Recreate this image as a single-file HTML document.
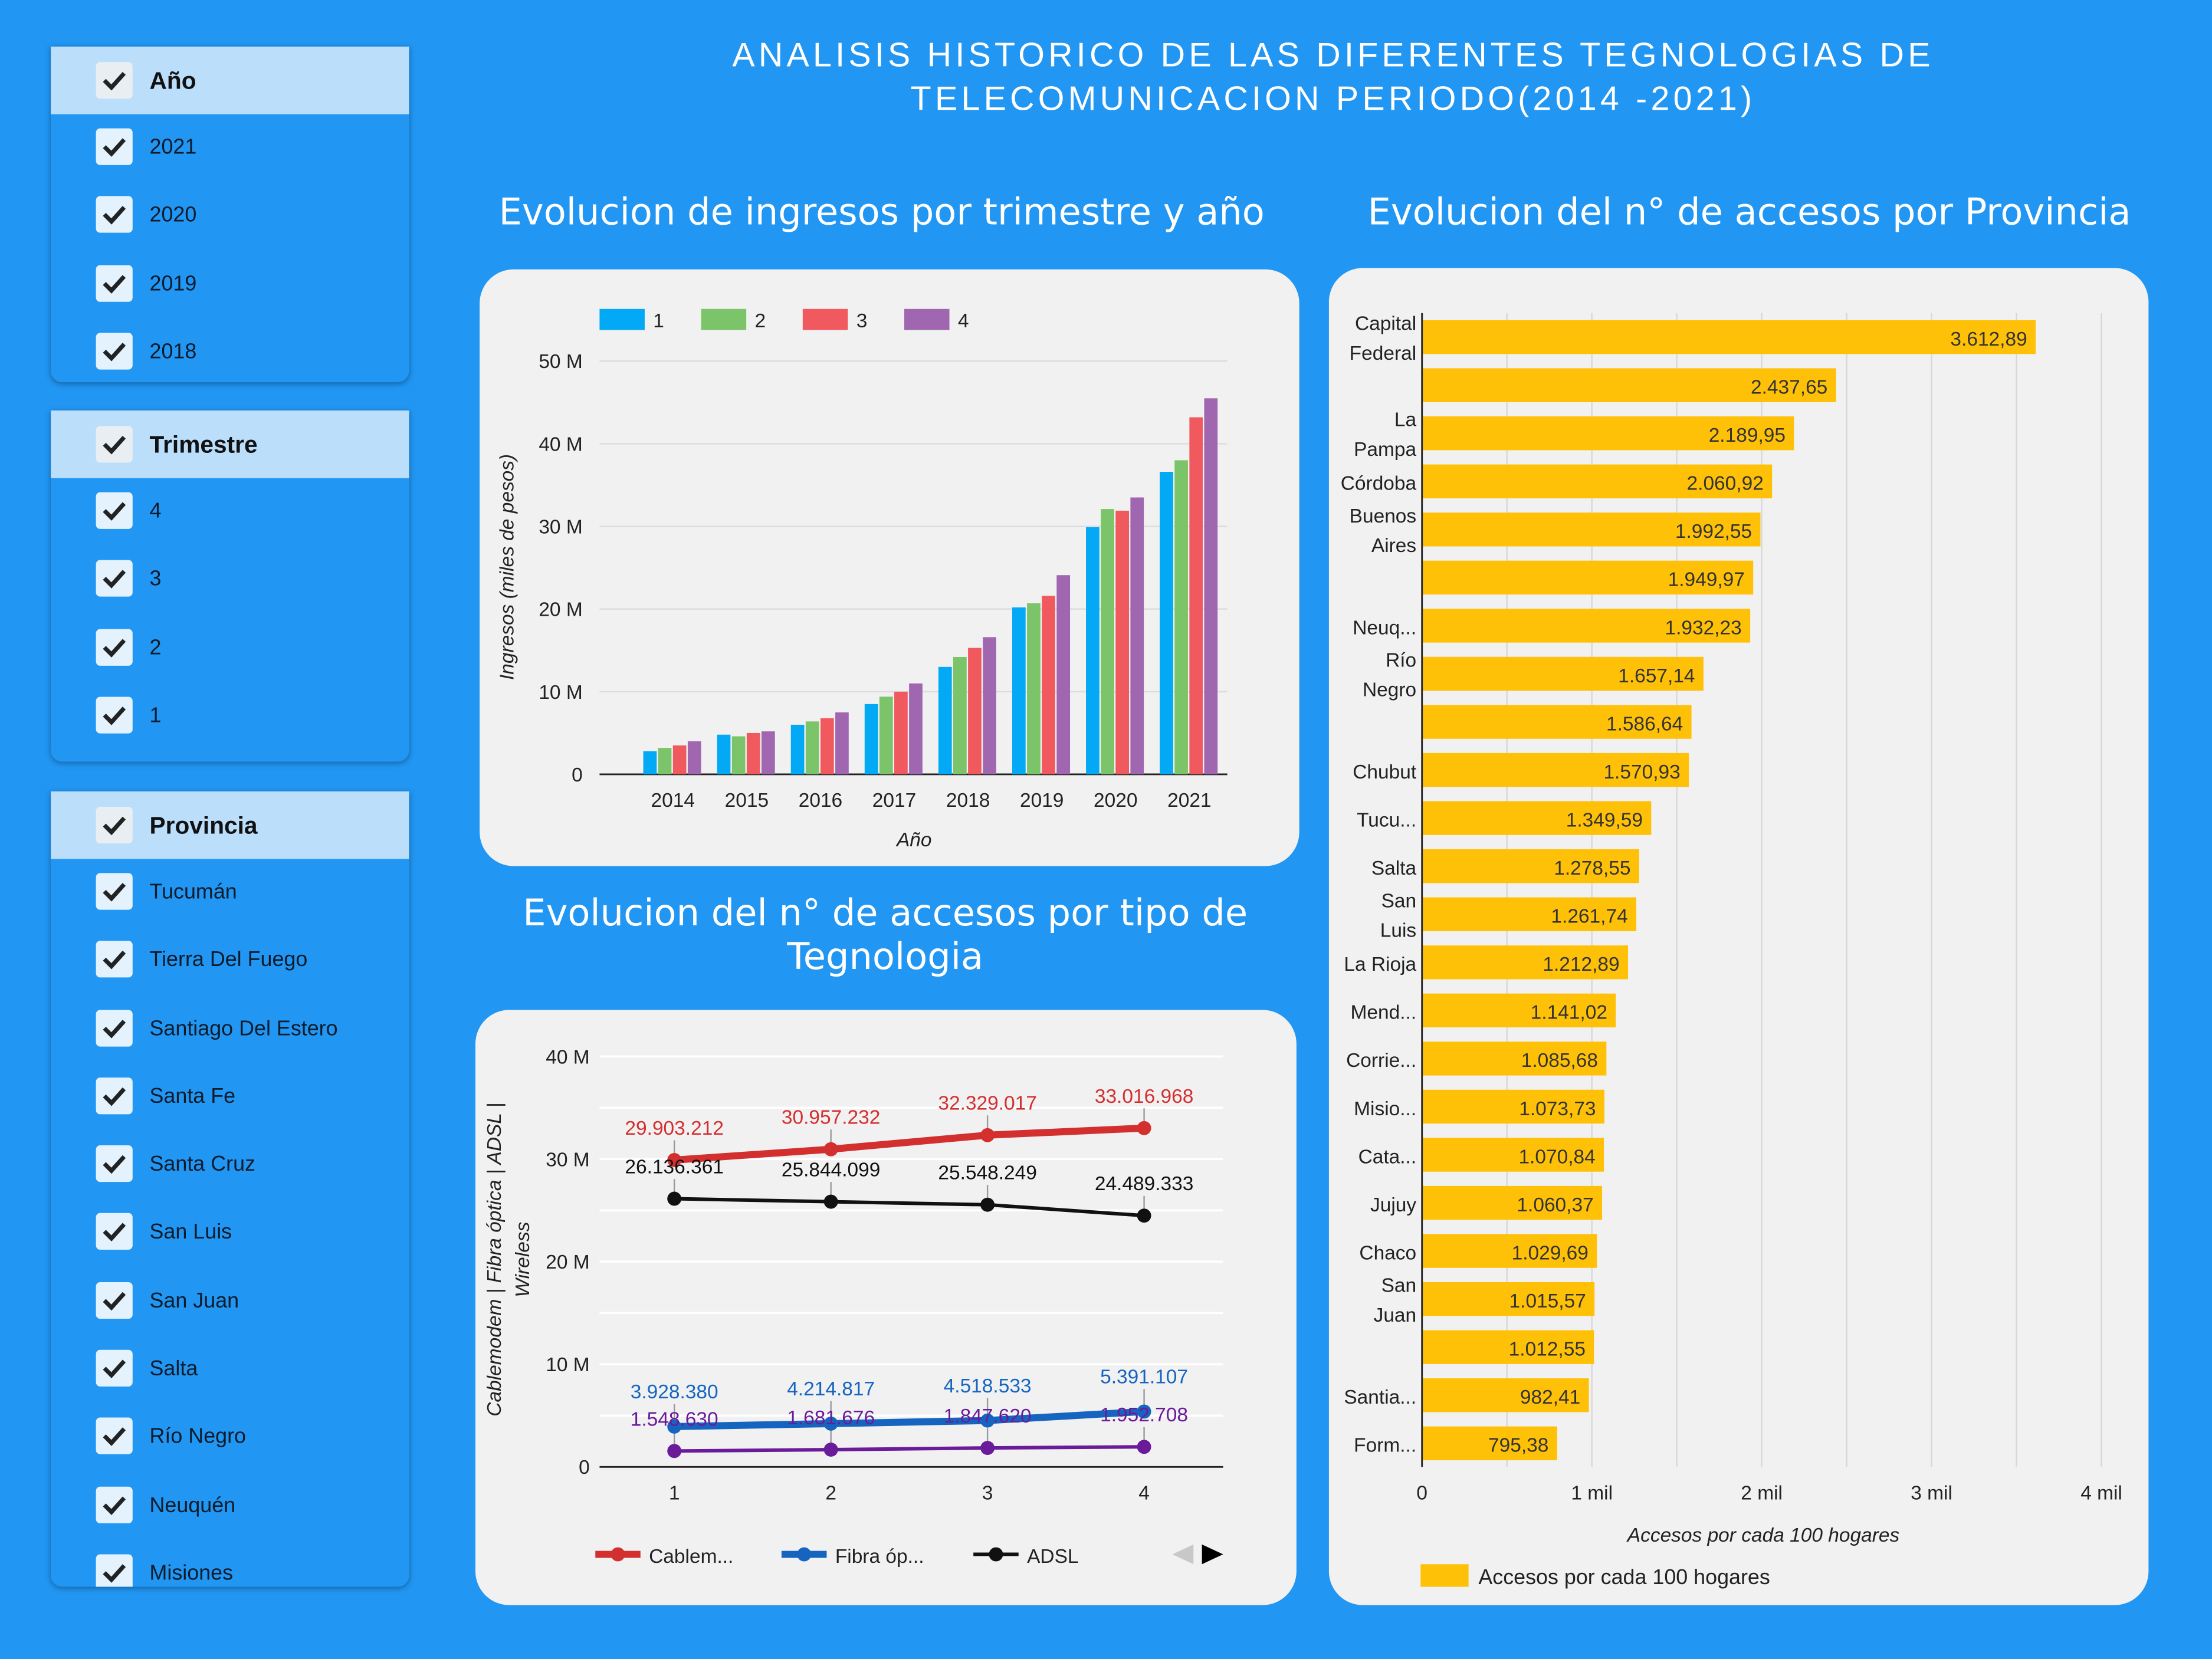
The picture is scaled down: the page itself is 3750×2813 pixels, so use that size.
<!DOCTYPE html>
<html><head><meta charset="utf-8">
<style>
html,body{margin:0;padding:0;width:3750px;height:2813px;overflow:hidden;background:#2196f3}
#root{position:absolute;left:0;top:0;width:1568px;height:1176px;transform:scale(2.3916);transform-origin:0 0;font-family:"Liberation Sans","DejaVu Sans",sans-serif}
.panel{position:absolute;left:36px;width:254px;background:#2196f3;box-shadow:0 1px 4px rgba(0,0,0,.35);border-radius:0 0 8px 8px;overflow:hidden}
.hdr{height:48px;background:#bbdefb;position:relative;font-weight:bold;font-size:17px;color:#111}
.item{height:48.3px;position:relative;font-size:15px;color:#0d1b2a}
.cb{position:absolute;left:32px;width:26px;height:26px;border-radius:3px;background:#e3f2fd}
.hdr .cb{background:#e8eef2}
.cb svg{position:absolute;left:4px;top:5px}
.lbl{position:absolute;left:70px}
.card{position:absolute;background:#f1f1f1;border-radius:24px}
.h2{position:absolute;color:#fff;font-size:26px;text-align:center;font-family:"DejaVu Sans",sans-serif;font-weight:400;white-space:nowrap}
</style></head><body>
<div id="root">

<div class="h2" style="left:400px;top:24px;width:1090px;font-family:'Liberation Sans',sans-serif;font-size:24px;line-height:31px;letter-spacing:2.6px;text-transform:uppercase">Analisis Historico de las diferentes tegnologias de<br>telecomunicacion periodo(2014 -2021)</div>
<div class="h2" style="left:330px;top:136px;width:590px">Evolucion de ingresos por trimestre y año</div>
<div class="h2" style="left:940px;top:136px;width:600px">Evolucion del n° de accesos por Provincia</div>
<div class="h2" style="left:335px;top:633px;width:585px;line-height:31px">Evolucion del n° de accesos por tipo de<br>Tegnologia</div>

<div id="filters"></div>

<div class="card" style="left:340px;top:191px;width:581px;height:423px"></div>
<div class="card" style="left:337px;top:716px;width:582px;height:422px"></div>
<div class="card" style="left:942px;top:190px;width:581px;height:948px"></div>

<svg id="chart1" width="1568" height="1176" style="position:absolute;left:0;top:0" font-family="Liberation Sans, DejaVu Sans, sans-serif"></svg>
</div>

<script>
// ---------- Filter panels ----------
const yearItems=["2021","2020","2019","2018"];
const quarterItems=["4","3","2","1"];
const provItems=["Tucumán","Tierra Del Fuego","Santiago Del Estero","Santa Fe","Santa Cruz","San Luis","San Juan","Salta","Río Negro","Neuquén","Misiones"];
const check='<svg width="18" height="16" viewBox="0 0 18 16"><path d="M2 8 L7 13 L16 3" stroke="#222" stroke-width="3" fill="none"/></svg>';
function panel(title,items,top,h,name){
  const p=document.createElement('div');p.className='panel';p.style.top=top+'px';p.style.height=h+'px';
  
  
  const hd=document.createElement('div');hd.className='hdr';
  
  
  hd.innerHTML='<div class="cb" style="top:11px">'+check+'</div><div class="lbl" style="top:15px">'+title+'</div>';
  p.appendChild(hd);
  items.forEach(t=>{const it=document.createElement('div');it.className='item';
    
    
    it.innerHTML='<div class="cb" style="top:10px">'+check+'</div><div class="lbl" style="top:15px">'+t+'</div>';p.appendChild(it);});
  document.getElementById('filters').appendChild(p);
}
panel('Año',yearItems,33,238,'year-filter');
panel('Trimestre',quarterItems,291,249,'quarter-filter');
panel('Provincia',provItems,561,564,'province-filter');

// ---------- Chart data ----------
const years=["2014","2015","2016","2017","2018","2019","2020","2021"];
const q1=[2.8,4.8,6.0,8.5,13.0,20.2,29.9,36.6];
const q2=[3.2,4.6,6.4,9.4,14.2,20.7,32.1,38.0];
const q3=[3.5,5.0,6.8,10.0,15.3,21.6,31.9,43.2];
const q4=[4.0,5.2,7.5,11.0,16.6,24.1,33.5,45.5];
const revTicks=[0,10,20,30,40,50];

const quarters=["1","2","3","4"];
const cable=[29903212,30957232,32329017,33016968];
const adsl=[26136361,25844099,25548249,24489333];
const fibra=[3928380,4214817,4518533,5391107];
const wireless=[1548630,1681676,1847620,1952708];
const techTicks=[0,10,20,30,40];

const provLabels=[["Capital","Federal"],[],["La","Pampa"],["Córdoba"],["Buenos","Aires"],[],["Neuq..."],["Río","Negro"],[],["Chubut"],["Tucu..."],["Salta"],["San","Luis"],["La Rioja"],["Mend..."],["Corrie..."],["Misio..."],["Cata..."],["Jujuy"],["Chaco"],["San","Juan"],[],["Santia..."],["Form..."]];
const provValues=[3612.89,2437.65,2189.95,2060.92,1992.55,1949.97,1932.23,1657.14,1586.64,1570.93,1349.59,1278.55,1261.74,1212.89,1141.02,1085.68,1073.73,1070.84,1060.37,1029.69,1015.57,1012.55,982.41,795.38];
const provTicks=[0,1000,2000,3000,4000];
const provTickLabels=["0","1 mil","2 mil","3 mil","4 mil"];

const svg=document.getElementById('chart1');
const NS='http://www.w3.org/2000/svg';
function el(tag,attrs,parent,text){const e=document.createElementNS(NS,tag);for(const k in attrs)e.setAttribute(k,attrs[k]);if(text!==undefined)e.textContent=text;(parent||svg).appendChild(e);return e;}

// ---------- Revenue bar chart ----------
const g1=el('g',{});


const rx0=425,rx1=870,ry0=549,ry1=256;
const ry=v=>ry0-(v/50)*(ry0-ry1);
revTicks.forEach(t=>{
  const l=el('line',{x1:rx0,x2:rx1,y1:ry(t),y2:ry(t),stroke:t?'#dcdcdc':'#222','stroke-width':t?1:1.2},g1);
  
  
  const tx=el('text',{x:413,y:ry(t)+5,'text-anchor':'end','font-size':14,fill:'#222'},g1,t?t+' M':'0');
  
  
});
const series=[q1,q2,q3,q4],cols=['#03a9f4','#7cc46a','#f05a5f','#a066b0'];
years.forEach((y,i)=>{
  const cx=rx0+52.3*i+52;
  series.forEach((s,k)=>{
    const b=el('rect',{x:cx-21+k*10.5,y:ry(s[i]),width:9.5,height:ry0-ry(s[i]),fill:cols[k]},g1);
    
    
  });
  const t=el('text',{x:cx,y:572,'text-anchor':'middle','font-size':14,fill:'#222'},g1,y);
  
  
});
let t1=el('text',{x:648,y:600,'text-anchor':'middle','font-size':14,'font-style':'italic',fill:'#222'},g1,'Año');


t1=el('text',{transform:'translate(364,402) rotate(-90)','text-anchor':'middle','font-size':14,'font-style':'italic',fill:'#222'},g1,'Ingresos (miles de pesos)');


["1","2","3","4"].forEach((n,k)=>{
  const lx=425+72*k;
  const r=el('rect',{x:lx,y:219,width:32,height:15,fill:cols[k]},g1);
  
  
  const t=el('text',{x:lx+38,y:232,'font-size':14,fill:'#222'},g1,n);
  
  
});

// ---------- Technology line chart ----------
const g2=el('g',{});


const lx0=425,lx1=867,ly0=1040,ly1=749;
const ly=v=>ly0-(v/40e6)*(ly0-ly1);
const lxq=i=>478+111*i;
[0,5,10,15,20,25,30,35,40].forEach(t=>{
  const l=el('line',{x1:lx0,x2:lx1,y1:ly(t*1e6),y2:ly(t*1e6),stroke:t?'#ffffff':'#222','stroke-width':t?1.5:1.2},g2);
  
  
});
techTicks.forEach(t=>{
  const tx=el('text',{x:418,y:ly(t*1e6)+5,'text-anchor':'end','font-size':14,fill:'#222'},g2,t?t+' M':'0');
  
  
});
quarters.forEach((q,i)=>{
  const t=el('text',{x:lxq(i),y:1063,'text-anchor':'middle','font-size':14,fill:'#222'},g2,q);
  
  
});
const fmt=v=>v.toString().replace(/\B(?=(\d{3})+(?!\d))/g,'.');
const lines=[
 {d:wireless,c:'#6a1b9a',w:2.5,name:'wireless',off:-18},
 {d:fibra,c:'#1565c0',w:5,name:'fibra-optica',off:-20},
 {d:adsl,c:'#111111',w:2.5,name:'adsl',off:-18},
 {d:cable,c:'#d32f2f',w:5,name:'cablemodem',off:-18}];
lines.forEach(s=>{
  s.d.forEach((v,i)=>{
    const l=el('line',{x1:lxq(i),x2:lxq(i),y1:ly(v),y2:ly(v)+s.off+4,stroke:'#999','stroke-width':1},g2);
    
    
  });
});
lines.forEach(s=>{
  const pts=s.d.map((v,i)=>lxq(i)+','+ly(v)).join(' ');
  const pl=el('polyline',{points:pts,fill:'none',stroke:s.c,'stroke-width':s.w},g2);
  
  
  s.d.forEach((v,i)=>{
    const c=el('circle',{cx:lxq(i),cy:ly(v),r:5,fill:s.c},g2);
    
    
  });
});
lines.forEach(s=>{
  s.d.forEach((v,i)=>{
    const t=el('text',{x:lxq(i),y:ly(v)+s.off,'text-anchor':'middle','font-size':14,fill:s.c},g2,fmt(v));
    
    
  });
});
t1=el('text',{transform:'translate(355,893) rotate(-90)','text-anchor':'middle','font-size':14,'font-style':'italic',fill:'#222'},g2,'Cablemodem | Fibra óptica | ADSL |');


t1=el('text',{transform:'translate(375,893) rotate(-90)','text-anchor':'middle','font-size':14,'font-style':'italic',fill:'#222'},g2,'Wireless');


[['#d32f2f','Cablem...',422,5],['#1565c0','Fibra óp...',554,5],['#111','ADSL',690,2.5]].forEach(([c,t,x,w])=>{
  const l=el('line',{x1:x,x2:x+32,y1:1102,y2:1102,stroke:c,'stroke-width':w},g2);
  
  
  el('circle',{cx:x+16,cy:1102,r:5,fill:c},g2);
  const tx=el('text',{x:x+38,y:1108,'font-size':14,fill:'#222'},g2,t);
  
  
});
let a=el('polygon',{points:'846,1095 846,1109 831,1102',fill:'#c8c8c8'},g2);


a=el('polygon',{points:'852,1095 852,1109 867,1102',fill:'#000'},g2);



// ---------- Province bar chart ----------
const g3=el('g',{});


const px0=1008,pscale=0.1204,py0=239,pstep=34.1;
const px=v=>px0+v*pscale;
for(let v=500;v<=4000;v+=500){
  const l=el('line',{x1:px(v),x2:px(v),y1:222,y2:1040,stroke:'#d8d8d8','stroke-width':1},g3);
  
  
}
provTicks.forEach((t,i)=>{
  const tx=el('text',{x:px(t),y:1063,'text-anchor':'middle','font-size':14,fill:'#222'},g3,provTickLabels[i]);
  
  
});
provValues.forEach((v,i)=>{
  const cy=py0+pstep*i;
  const b=el('rect',{x:px0,y:cy-12,width:v*pscale,height:24,fill:'#ffc107'},g3);
  
  
  const t=el('text',{x:px(v)-6,y:cy+6,'text-anchor':'end','font-size':14,fill:'#333'},g3,v.toFixed(2).replace('.',',').replace(/\B(?=(\d{3})+(?!\d))/,'.'));
  
  
  const lab=provLabels[i];
  lab.forEach((s,k)=>{
    const tt=el('text',{x:1004,y:lab.length===1?cy+6:cy-5+k*21,'text-anchor':'end','font-size':14,fill:'#222'},g3,s);
    
    
  });
});
let ax=el('line',{x1:px0,x2:px0,y1:222,y2:1040,stroke:'#222','stroke-width':1.2},g3);


t1=el('text',{x:1250,y:1093,'text-anchor':'middle','font-size':14,'font-style':'italic',fill:'#222'},g3,'Accesos por cada 100 hogares');


a=el('rect',{x:1007,y:1109,width:34,height:16,fill:'#ffc107'},g3);


t1=el('text',{x:1048,y:1123,'font-size':15,fill:'#222'},g3,'Accesos por cada 100 hogares');


</script>
</body></html>
